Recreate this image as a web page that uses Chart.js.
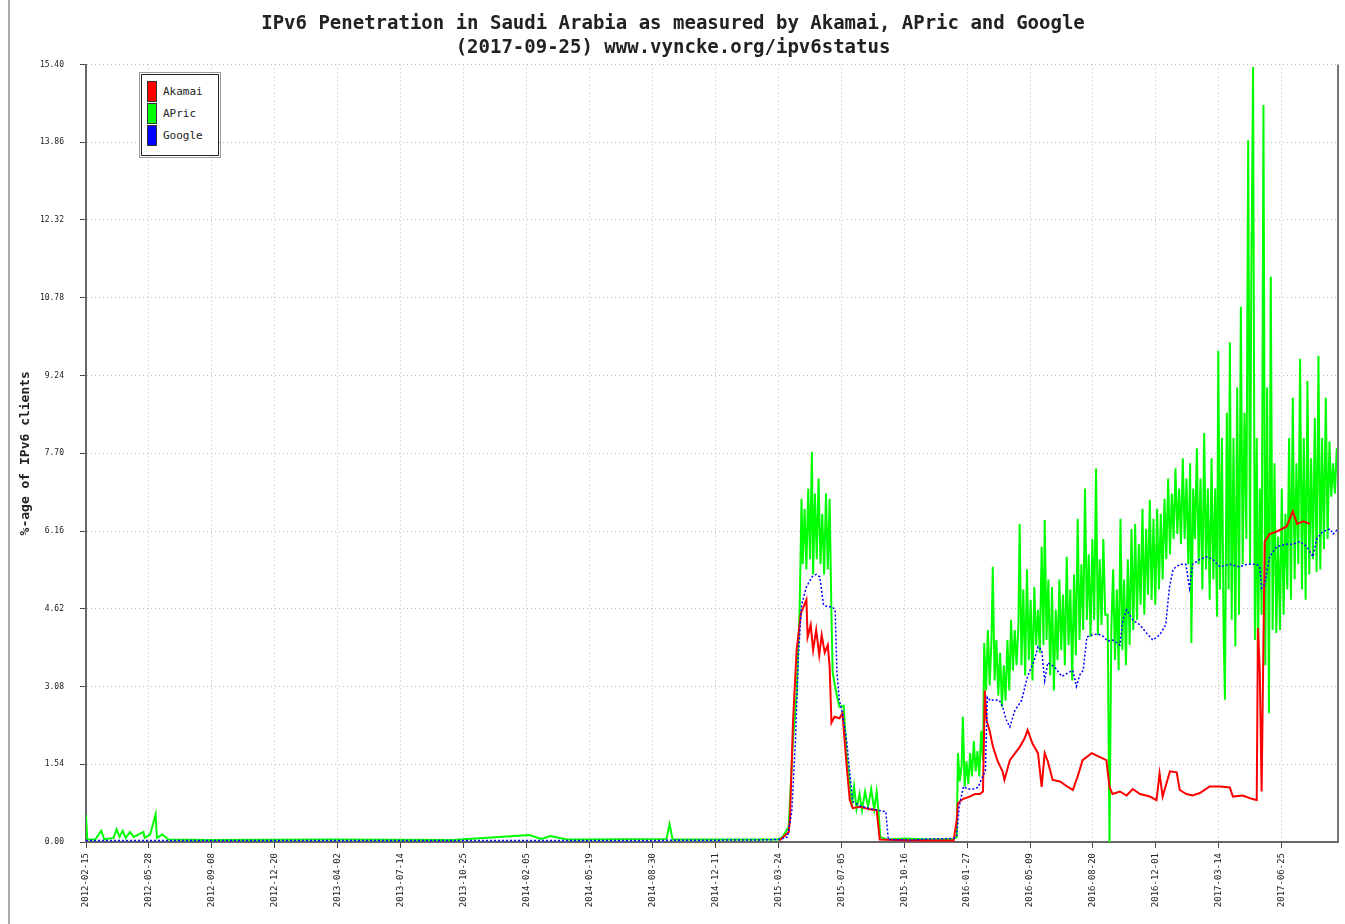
<!DOCTYPE html>
<html>
<head>
<meta charset="utf-8">
<script src="https://cdn.jsdelivr.net/npm/chart.js@4.4.0/dist/chart.umd.min.js"></script>
<style>
  body { margin: 0; background: #fff; }
  #wrap { position: relative; width: 1345px; height: 924px; }
  #frame { position: absolute; left: 8px; top: 0; width: 0; height: 924px; border-left: 2px solid #aaa; }
  #legend { position: absolute; left: 141px; top: 74px; width: 76px; height: 80px; border: 1px solid #222;
            outline: 1px solid #999; outline-offset: 1px; background: #fff; font: 11px "DejaVu Sans Mono", monospace; }
  .item { position: absolute; left: 5px; height: 21px; }
  .sw { position: absolute; left: 0; top: 0; width: 8px; height: 19px; border: 1px solid #333; }
  .lb { position: absolute; left: 16px; top: 4px; white-space: nowrap; color: #222; }
</style>
</head>
<body>
<div id="wrap">
  <canvas id="chart" width="1345" height="924"></canvas>
  <div id="frame"></div>
  <div id="legend"></div>
</div>
<script>
// days are counted from startDate (2012-02-15)
const startDate = "2012-02-15";
const xTickDays = 103;
const xTickLabels = ["2012-02-15", "2012-05-28", "2012-09-08", "2012-12-20", "2013-04-02", "2013-07-14",
  "2013-10-25", "2014-02-05", "2014-05-19", "2014-08-30", "2014-12-11", "2015-03-24", "2015-07-05",
  "2015-10-16", "2016-01-27", "2016-05-09", "2016-08-20", "2016-12-01", "2017-03-14", "2017-06-25"];
const yStep = 1.54;
const yTickLabels = ["0.00", "1.54", "3.08", "4.62", "6.16", "7.70", "9.24", "10.78", "12.32", "13.86", "15.40"];

const seriesNames = ["Akamai", "APric", "Google"];
const seriesColors = ["#ff0000", "#00ff00", "#0000ff"];

const akamaiDays = [1135, 1150, 1152, 1157, 1163, 1170, 1179, 1181, 1186, 1190, 1195, 1200, 1204, 1209, 1214, 1217, 1220,
  1225, 1233, 1238, 1245, 1250, 1255, 1266, 1283, 1294, 1299, 1350, 1420, 1425, 1427, 1435, 1446, 1455, 1463, 1468,
  1471, 1474, 1479, 1484, 1492, 1500, 1503, 1512, 1520, 1528, 1536, 1541, 1549, 1558, 1564, 1569, 1574, 1582, 1594,
  1607, 1615, 1623, 1631, 1646, 1656, 1670, 1675, 1680, 1692, 1703, 1713, 1725, 1741, 1752, 1757, 1762, 1774, 1785,
  1790, 1801, 1811, 1823, 1839, 1856, 1872, 1877, 1893, 1909, 1916, 1918, 1921, 1924, 1929, 1937, 1949, 1965, 1975,
  1982, 1992, 2003];
const akamaiVals = [0.03, 0.2, 0.44, 2.36, 3.8, 4.53, 4.8, 4.06, 4.3, 3.8, 4.2, 3.7, 4.1, 3.75, 3.9, 3.47, 2.36,
  2.48, 2.45, 2.55, 1.49, 0.83, 0.67, 0.7, 0.65, 0.63, 0.05, 0.03, 0.03, 0.44, 0.77, 0.85, 0.9, 0.95, 0.95, 1.0,
  3.0, 2.4, 2.2, 1.9, 1.6, 1.4, 1.23, 1.62, 1.75, 1.88, 2.05, 2.22, 1.95, 1.76, 1.09, 1.76, 1.6, 1.23, 1.2,
  1.09, 1.03, 1.3, 1.62, 1.76, 1.7, 1.62, 1.09, 0.95, 1.0, 0.92, 1.05, 0.95, 0.9, 0.83, 1.36, 0.9, 1.4, 1.38,
  1.03, 0.95, 0.92, 0.97, 1.1, 1.1, 1.08, 0.9, 0.92, 0.85, 0.83, 4.24, 3.4, 1.0, 5.95, 6.1, 6.15, 6.25, 6.55,
  6.3, 6.35, 6.3];

const apricDays = [0, 2, 15, 25, 30, 45, 50, 55, 60, 65, 72, 78, 94, 96, 105, 114, 116, 125, 135, 200, 400, 600, 726,
  745, 760, 787, 800, 950, 955, 960, 1000, 1133, 1140, 1150, 1157, 1163, 1168, 1171, 1173, 1176, 1179, 1182, 1185, 1188,
  1190, 1193, 1196, 1199, 1202, 1205, 1208, 1211, 1214, 1217, 1220, 1222, 1228, 1233, 1240, 1245, 1250, 1253, 1257,
  1261, 1266, 1270, 1275, 1280, 1285, 1290, 1294, 1297, 1300, 1310, 1340, 1380, 1420,
  1425, 1427, 1430, 1433, 1435, 1438, 1441, 1444, 1447, 1450, 1453, 1456, 1459, 1462, 1465, 1468, 1470, 1473, 1476,
  1479, 1482, 1484, 1487, 1490, 1493, 1496, 1499, 1502, 1505, 1508, 1511, 1514, 1517, 1520, 1523, 1526, 1528, 1531,
  1534, 1537, 1540, 1543, 1546, 1549, 1552, 1555, 1558, 1561, 1564, 1567, 1569, 1572, 1575, 1578, 1581, 1584, 1587,
  1590, 1593, 1596, 1599, 1602, 1605, 1608, 1611, 1614, 1617, 1620, 1623, 1626, 1629, 1632, 1635, 1638, 1641, 1644,
  1647, 1650, 1653, 1656, 1659, 1662, 1665, 1668, 1672, 1675, 1678, 1681, 1684, 1687, 1690, 1693, 1696, 1699, 1702,
  1705, 1708, 1711, 1714, 1717, 1720, 1723, 1726, 1729, 1732, 1735, 1738, 1741, 1744, 1747, 1750, 1753, 1756, 1759,
  1762, 1765, 1768, 1771, 1774, 1777, 1780, 1783, 1786, 1789, 1792, 1795, 1798, 1801, 1804, 1807, 1809, 1812, 1815,
  1818, 1821, 1824, 1827, 1830, 1833, 1836, 1839, 1842, 1845, 1848, 1851, 1853, 1856, 1859, 1862, 1864, 1867, 1870,
  1872, 1875, 1878, 1881, 1884, 1887, 1890, 1893, 1896, 1899, 1902, 1905, 1907, 1910, 1913, 1916, 1918, 1921, 1924,
  1927, 1930, 1933, 1936, 1939, 1942, 1945, 1948, 1951, 1954, 1957, 1960, 1963, 1966, 1969, 1972, 1975, 1978, 1981,
  1984, 1987, 1990, 1993, 1996, 1999, 2002, 2005, 2008, 2011, 2014, 2017, 2020, 2023, 2026, 2029, 2032, 2035, 2038,
  2041, 2044, 2047];
const apricVals = [0.53, 0.05, 0.05, 0.22, 0.05, 0.08, 0.25, 0.1, 0.22, 0.08, 0.2, 0.1, 0.2, 0.08, 0.15, 0.55, 0.08,
  0.15, 0.05, 0.04, 0.05, 0.04, 0.14, 0.06, 0.12, 0.05, 0.05, 0.06, 0.35, 0.05, 0.05, 0.05, 0.1, 0.3, 2.0, 2.95, 4.65,
  6.8, 5.5, 6.6, 5.4, 7.0, 5.6, 7.73, 5.3, 6.9, 5.6, 7.2, 5.5, 6.5, 5.3, 6.9, 5.4, 6.8, 4.5, 3.35, 2.95, 2.68, 2.7,
  1.7, 1.17, 0.7, 1.1, 0.65, 0.95, 0.63, 1.0, 0.7, 1.05, 0.65, 1.0, 0.6, 0.1, 0.05, 0.07, 0.05, 0.06,
  0.1, 1.76, 1.2, 1.5, 2.48, 1.1, 1.6, 1.15, 1.76, 1.3, 2.0, 1.4, 1.8, 1.3, 2.2, 1.6, 3.94, 3.0, 4.2,
  3.1, 4.06, 5.45, 3.2, 4.0, 2.9, 3.75, 2.68, 3.5, 2.8, 4.0, 3.0, 4.4, 3.4, 4.2, 3.5, 4.3, 6.3, 3.5,
  5.0, 3.3, 5.4, 3.6, 4.8, 3.2, 5.05, 3.9, 4.6, 3.75, 5.85, 3.9, 6.38, 4.0, 5.2, 3.3, 5.05, 3.0, 4.6,
  3.6, 5.2, 3.8, 4.9, 3.5, 5.65, 3.9, 5.0, 3.2, 5.3, 3.7, 6.4, 4.0, 5.5, 4.2, 7.0, 4.4, 5.7, 4.06,
  6.0, 4.4, 7.4, 4.1, 5.6, 4.3, 6.0, 4.5, 4.5, 0.0, 4.2, 5.4, 3.6, 5.0, 3.4, 6.4, 3.8, 5.2, 3.5,
  5.6, 3.9, 6.2, 4.2, 6.3, 4.4, 5.9, 4.7, 6.6, 4.5, 6.2, 4.9, 6.78, 4.8, 6.4, 4.7, 6.6, 5.0, 6.5,
  5.2, 6.8, 5.6, 7.2, 5.7, 6.9, 6.0, 7.4, 6.1, 7.0, 5.9, 7.6, 6.0, 7.2, 5.5, 7.5, 3.94, 7.0, 6.0,
  7.8, 5.5, 7.2, 5.0, 8.1, 5.4, 7.0, 4.8, 7.6, 5.2, 7.0, 4.46, 9.73, 5.0, 8.0, 4.0, 2.82, 8.5, 5.0,
  9.9, 4.4, 8.0, 3.87, 9.0, 4.5, 10.6, 5.5, 8.5, 6.0, 13.9, 5.5, 11.0, 15.35, 4.0, 8.0, 3.45, 7.0, 4.5,
  14.6, 3.5, 9.0, 2.55, 11.2, 4.2, 7.5, 4.14, 6.05, 4.2, 7.0, 4.5, 6.5, 5.0, 8.0, 4.8, 8.8, 5.2, 7.5,
  5.5, 9.57, 5.0, 8.0, 4.8, 9.13, 5.3, 7.6, 5.6, 8.4, 5.35, 9.63, 5.4, 8.0, 5.8, 8.8, 6.0, 7.93, 6.84,
  7.5, 6.9, 7.8];

const googleDays = [0, 150, 400, 700, 900, 1100, 1135, 1148, 1155, 1161, 1166, 1171, 1179, 1188, 1195, 1201, 1207,
  1213, 1221, 1226, 1229, 1233, 1238, 1245, 1250, 1255, 1266, 1283, 1300, 1309, 1313, 1350, 1380, 1420, 1425, 1429,
  1436, 1443, 1452, 1460, 1465, 1472, 1475, 1480, 1488, 1495, 1500, 1506, 1512, 1520, 1531, 1541, 1552, 1558, 1564,
  1569, 1574, 1585, 1597, 1607, 1615, 1621, 1626, 1632, 1638, 1646, 1656, 1664, 1672, 1680, 1687, 1692, 1697, 1703,
  1713, 1725, 1735, 1746, 1757, 1767, 1773, 1779, 1790, 1800, 1806, 1811, 1823, 1834, 1844, 1856, 1872, 1888, 1900,
  1916, 1921, 1924, 1929, 1937, 1949, 1965, 1975, 1987, 1998, 2008, 2014, 2024, 2036, 2041, 2049];
const googleVals = [0.03, 0.03, 0.03, 0.03, 0.03, 0.04, 0.05, 0.1, 0.6, 2.0, 3.7, 4.7, 5.05, 5.25, 5.3, 5.25, 4.7,
  4.66, 4.66, 4.6, 3.35, 2.8, 2.55, 2.0, 1.36, 0.8, 0.72, 0.66, 0.62, 0.6, 0.05, 0.04, 0.06, 0.07, 0.12, 0.7,
  1.1, 1.05, 1.05, 1.08, 1.23, 1.42, 2.87, 2.8, 2.82, 2.8, 2.68, 2.42, 2.28, 2.6, 2.8, 3.28, 3.6, 3.87, 3.8,
  3.2, 3.55, 3.47, 3.28, 3.35, 3.4, 3.08, 3.3, 3.4, 4.06, 4.1, 4.12, 4.08, 3.98, 4.0, 3.95, 3.9, 4.4, 4.6,
  4.4, 4.3, 4.15, 4.0, 4.1, 4.3, 5.03, 5.4, 5.5, 5.5, 5.03, 5.5, 5.6, 5.65, 5.6, 5.45, 5.5, 5.45, 5.5,
  5.5, 5.45, 5.03, 5.1, 5.65, 5.85, 5.9, 5.9, 5.95, 5.85, 5.65, 6.0, 6.15, 6.2, 6.1, 6.2];

//turn two lists into points for chart.js
function points(days, vals) {
  return days.map((d, i) => ({ x: d, y: vals[i] }));
}

//legend box drawn as html over the chart
seriesNames.forEach((name, i) => {
  document.querySelector("#legend").innerHTML += `
  <div class="item" style="top:${6 + i * 22}px">
    <div class="sw" style="background:${seriesColors[i]}"></div>
    <div class="lb">${name}</div>
  </div>`;
});

//solid line on the right side of the plot
const rightEdge = {
  id: "rightEdge",
  afterDraw(chart) {
    const a = chart.chartArea;
    const c = chart.ctx;
    c.save();
    c.strokeStyle = "#777";
    c.lineWidth = 2;
    c.beginPath();
    c.moveTo(a.right, a.top);
    c.lineTo(a.right, a.bottom);
    c.stroke();
    c.restore();
  },
};

const mono = "'DejaVu Sans Mono', monospace";
const ctx = document.getElementById("chart").getContext("2d");
const chart = new Chart(ctx, {
  type: "line",
  data: {
    datasets: [
      {
        label: seriesNames[0],
        data: points(akamaiDays, akamaiVals),
        borderColor: seriesColors[0],
        borderWidth: 2,
        order: 1,
      },
      {
        label: seriesNames[1],
        data: points(apricDays, apricVals),
        borderColor: seriesColors[1],
        borderWidth: 2,
        order: 2,
      },
      {
        label: seriesNames[2],
        data: points(googleDays, googleVals),
        borderColor: seriesColors[2],
        borderWidth: 1.5,
        borderDash: [2, 2],
        order: 0,
      },
    ],
  },
  options: {
    responsive: false,
    animation: false,
    layout: { padding: { left: 8, right: 7, top: 0, bottom: 0 } },
    elements: { point: { radius: 0 }, line: { tension: 0 } },
    plugins: {
      legend: { display: false },
      tooltip: { enabled: false },
      title: {
        display: true,
        text: ["IPv6 Penetration in Saudi Arabia as measured by Akamai, APric and Google", "(2017-09-25) www.vyncke.org/ipv6status"],
        color: "#222",
        font: { family: mono, size: 19, weight: "bold", lineHeight: 1.25 },
        padding: { top: 12, bottom: 5 },
      },
    },
    scales: {
      x: {
        type: "linear",
        min: 0,
        max: 2049,
        afterFit: (scale) => { scale.height = 82; },
        border: { color: "#666", width: 2, dash: [1, 3] },
        grid: { color: "#bbb", tickColor: "#444", tickLength: 6, tickBorderDash: [] },
        ticks: {
          stepSize: xTickDays,
          includeBounds: false,
          autoSkip: false,
          maxRotation: 90,
          minRotation: 90,
          padding: 5,
          color: "#222",
          font: { family: mono, size: 9 },
          callback: (v) => xTickLabels[Math.round(v / xTickDays)],
        },
      },
      y: {
        min: 0,
        max: 15.4,
        afterFit: (scale) => { scale.width = 78; },
        border: { color: "#666", width: 2, dash: [1, 3] },
        grid: { color: "#bbb", tickColor: "#444", tickLength: 6, tickBorderDash: [] },
        title: {
          display: true,
          text: "%-age of IPv6 clients",
          color: "#222",
          font: { family: mono, size: 13, weight: "bold" },
          padding: { top: 10, bottom: 0 },
        },
        ticks: {
          stepSize: yStep,
          padding: 16,
          color: "#222",
          font: { family: mono, size: 8 },
          callback: (v) => yTickLabels[Math.round(v / yStep)],
        },
      },
    },
  },
  plugins: [rightEdge],
});
</script>
</body>
</html>
